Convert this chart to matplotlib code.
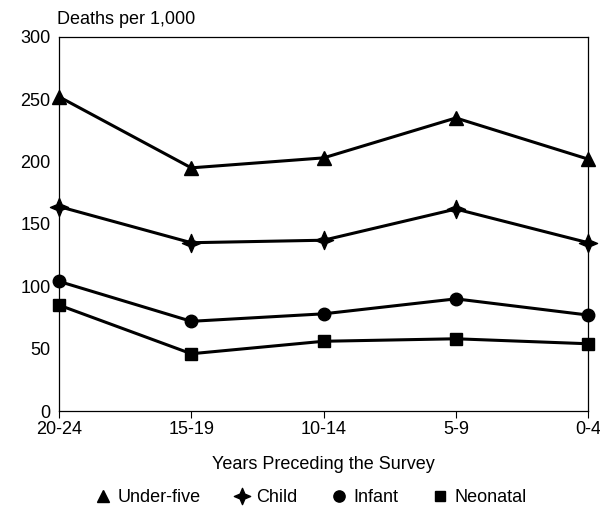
import matplotlib
matplotlib.use("Agg")
import matplotlib.pyplot as plt
import numpy as np
from matplotlib.path import Path

plt.rcParams['font.family'] = ['Liberation Sans', 'DejaVu Sans']

periods = ["20-24", "15-19", "10-14", "5-9", "0-4"]
under_five = [252, 195, 203, 235, 202]
child = [164, 135, 137, 162, 135]
infant = [104, 72, 78, 90, 77]
neonatal = [85, 46, 56, 58, 54]
series_names = ["Under-five", "Child", "Infant", "Neonatal"]

# 4-pointed star marker
ang = np.deg2rad(np.arange(0, 360, 45) + 90)
rad = np.array([1.0 if i % 2 == 0 else 0.42 for i in range(8)])
verts = np.column_stack([rad * np.cos(ang), rad * np.sin(ang)])
verts = np.vstack([verts, verts[:1]])
codes = [Path.MOVETO] + [Path.LINETO] * 7 + [Path.CLOSEPOLY]
star4 = Path(verts, codes)

fig = plt.figure(figsize=(6, 5.12), dpi=100)
ax = fig.add_axes([0.0983, 0.197, 0.882, 0.731])

FS = 13

x = np.arange(len(periods))
styles = [(under_five, '^', 9.5), (child, star4, 13), (infant, 'o', 9), (neonatal, 's', 8.5)]
handles = []
for (vals, m, ms), name in zip(styles, series_names):
    ax.plot(x, vals, color='black', lw=2.2, marker=m, markersize=ms, clip_on=False, zorder=3)
    h, = ax.plot([], [], ls='none', marker=m, color='black', markersize=ms * 0.9, label=name)
    handles.append(h)

ax.set_xlim(0, len(periods) - 1)
ax.set_ylim(0, 300)
ax.set_xticks(x)
ax.set_xticklabels(periods, fontsize=FS)
ax.set_yticks([0, 50, 100, 150, 200, 250, 300])
ax.tick_params(axis='y', length=0, labelsize=FS, pad=6)
ax.tick_params(axis='x', length=5, direction='out', pad=2)
for s in ax.spines.values():
    s.set_linewidth(0.9)

ax.set_xlabel("Years Preceding the Survey", fontsize=FS, labelpad=13)
fig.text(0.095, 0.962, "Deaths per 1,000", fontsize=FS, ha='left', va='center')

fig.legend(handles=handles, loc='center', bbox_to_anchor=(0.517, 0.028), ncol=4,
           frameon=False, fontsize=FS, handletextpad=0.3, columnspacing=1.8,
           handlelength=1.0)

fig.savefig("out.png", dpi=100)
